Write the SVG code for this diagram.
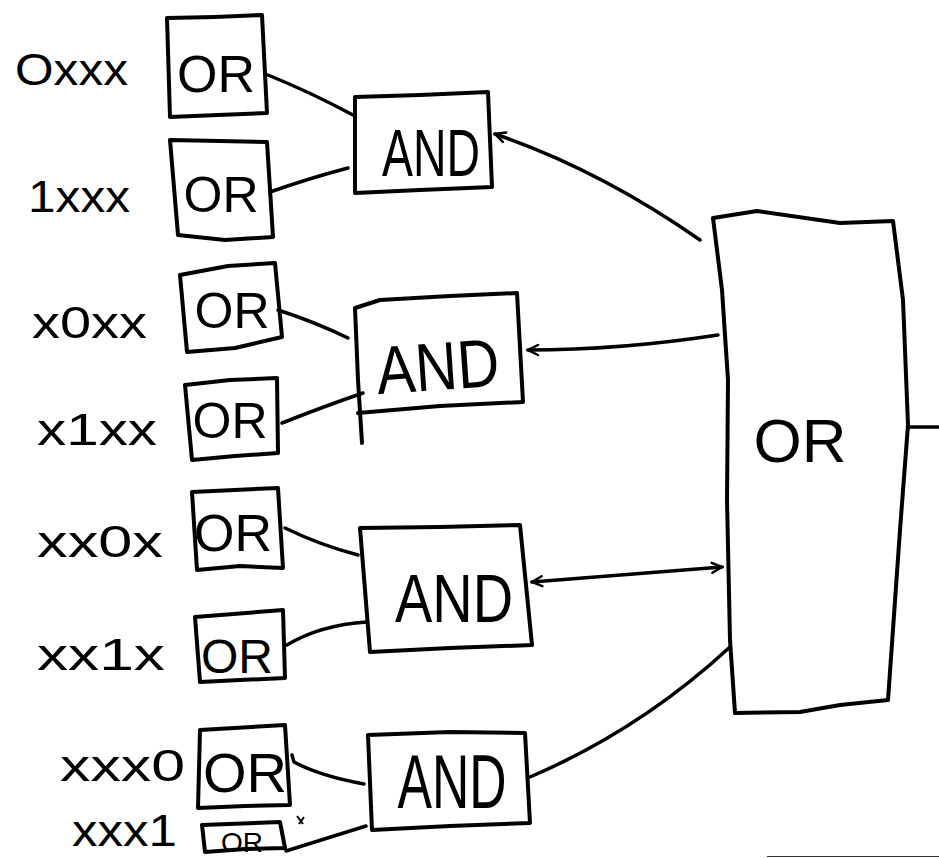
<svg xmlns="http://www.w3.org/2000/svg" width="939" height="858" viewBox="0 0 939 858">
<style>
.box{fill:none;stroke:#000;stroke-width:4;stroke-linejoin:round;stroke-linecap:round}
.wire{fill:none;stroke:#000;stroke-width:3.5;stroke-linecap:round}
.t{font-family:"Liberation Sans","DejaVu Sans",sans-serif;fill:#000;text-anchor:middle}
.lbl{font-family:"Liberation Sans","DejaVu Sans",sans-serif;fill:#000;font-size:44px}
</style>
<defs>
<marker id="arr" viewBox="0 0 14 14" refX="12" refY="7" markerWidth="14" markerHeight="14" markerUnits="userSpaceOnUse" orient="auto-start-reverse">
<path d="M2,2 L12,7 L2,12" fill="none" stroke="#000" stroke-width="2.5" stroke-linecap="round"/>
</marker>
</defs>
<rect width="939" height="858" fill="#fff"/>

<g id="labels">
<text class="lbl" x="15" y="85" textLength="113" lengthAdjust="spacingAndGlyphs">Oxxx</text>
<text class="lbl" x="28" y="212" textLength="102" lengthAdjust="spacingAndGlyphs">1xxx</text>
<text class="lbl" x="32" y="338" textLength="115" lengthAdjust="spacingAndGlyphs">x0xx</text>
<text class="lbl" x="37" y="445" textLength="120" lengthAdjust="spacingAndGlyphs">x1xx</text>
<text class="lbl" x="37" y="557" textLength="126" lengthAdjust="spacingAndGlyphs">xx0x</text>
<text class="lbl" x="37" y="670" textLength="128" lengthAdjust="spacingAndGlyphs">xx1x</text>
<text class="lbl" x="60" y="781" textLength="125" lengthAdjust="spacingAndGlyphs">xxx0</text>
<text class="lbl" x="72" y="846" textLength="105" lengthAdjust="spacingAndGlyphs">xxx1</text>
</g>

<g id="or1"><path class="box" d="M167,18 L215,17 L262,15 L267,113 L218,115 L170,117 Z"/><text class="t" x="216" y="92" font-size="52">OR</text></g>
<g id="or2"><path class="box" d="M170,140 L267,142 L273,237 L225,240 L178,235 Z"/><text class="t" x="221" y="212" font-size="50">OR</text></g>
<g id="or3"><path class="box" d="M180,275 L228,266 L275,263 L282,337 L235,348 L187,352 Z"/><text class="t" x="232" y="328" font-size="50">OR</text></g>
<g id="or4"><path class="box" d="M185,385 L230,380 L277,378 L278,453 L235,456 L192,460 Z"/><text class="t" x="230" y="438" font-size="50">OR</text></g>
<g id="or5"><path class="box" d="M192,492 L278,488 L283,568 L240,566 L197,570 Z"/><text class="t" x="233" y="551" font-size="52">OR</text></g>
<g id="or6"><path class="box" d="M195,617 L283,610 L285,678 L240,680 L200,682 Z"/><text class="t" x="237" y="673" font-size="48">OR</text></g>
<g id="or7"><path class="box" d="M200,730 L285,725 L290,805 L245,806 L198,808 Z"/><text class="t" x="245" y="792" font-size="56">OR</text></g>
<g id="or8"><path class="box" d="M202,825 L280,822 L285,848 L245,849 L205,852 Z"/><text class="t" x="242" y="852" font-size="28">OR</text></g>

<g id="and1"><path class="box" d="M355,97 L420,95 L488,92 L492,187 L420,190 L355,193 Z"/><text class="t" x="431" y="176" font-size="66" textLength="98" lengthAdjust="spacingAndGlyphs">AND</text></g>
<g id="and2"><path class="box" d="M355,308 L380,300 L450,296 L517,293 L523,402 L480,404 L440,406 L358,413 M355,308 L358,380 L362,443"/><text class="t" x="438" y="390" font-size="68" textLength="123" lengthAdjust="spacingAndGlyphs" transform="rotate(-4 438 370)">AND</text></g>
<g id="and3"><path class="box" d="M360,528 L440,527 L520,525 L532,645 L450,648 L370,652 Z"/><text class="t" x="454" y="622" font-size="68" textLength="118" lengthAdjust="spacingAndGlyphs">AND</text></g>
<g id="and4"><path class="box" d="M368,735 L450,732 L525,733 L530,823 L450,826 L372,830 Z"/><text class="t" x="452" y="808" font-size="76" textLength="109" lengthAdjust="spacingAndGlyphs">AND</text></g>

<g id="or-main"><path class="box" d="M713,218 L757,211 L840,223 L893,221 L903,300 L908,425 L900,530 L888,700 L840,705 L800,712 L735,713 L730,640 L727,500 L728,380 L722,290 Z"/><text class="t" x="800" y="462" font-size="62">OR</text></g>

<g id="connectors">
<path class="wire" d="M268,75 Q310,92 353,115"/>
<path class="wire" d="M270,192 Q310,178 348,168"/>
<path class="wire" d="M278,310 Q315,322 348,338"/>
<path class="wire" d="M282,423 Q325,406 363,393"/>
<path class="wire" d="M285,528 Q320,545 358,555"/>
<path class="wire" d="M287,645 Q320,625 367,622"/>
<path class="wire" d="M364,784 Q320,776 294,762 L292,755"/>
<path class="wire" d="M366,826 L286,851"/>
<path class="wire" d="M530,777 Q640,730 730,647"/>
<path class="wire" d="M700,240 Q600,170 495,134" marker-end="url(#arr)"/>
<path class="wire" d="M718,335 Q620,350 528,350" marker-end="url(#arr)"/>
<path class="wire" d="M532,582 L722,567" marker-start="url(#arr)" marker-end="url(#arr)"/>
<path class="wire" d="M908,427 L939,427"/>
</g>

<path d="M297,816 L303,824 M299,824 L304,817" stroke="#000" stroke-width="2" fill="none"/>
<path d="M767,856.5 L939,856.5" stroke="#333" stroke-width="1.2"/>
</svg>
